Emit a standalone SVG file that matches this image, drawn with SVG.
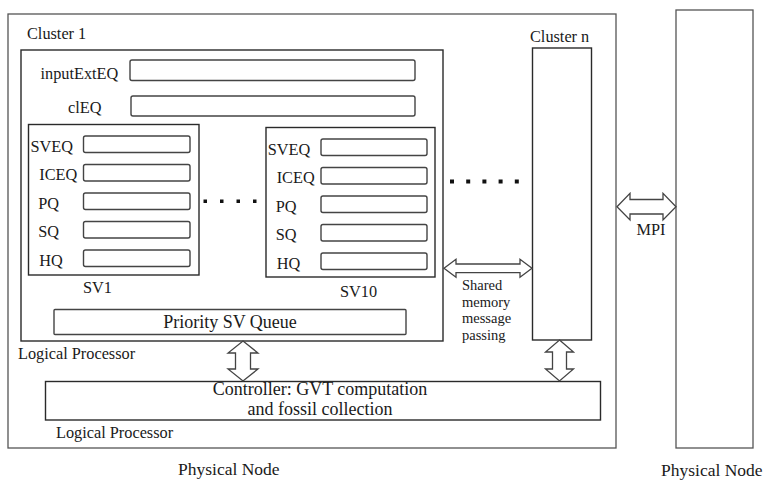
<svg xmlns="http://www.w3.org/2000/svg" width="767" height="481" viewBox="0 0 767 481">
  <style>
    text { font-family: "Liberation Serif", "Times New Roman", "DejaVu Serif", serif; fill: #1a1a1a; }
    .lbl { font-size: 16.3px; }
    .big { font-size: 18px; }
    .pn { font-size: 17.5px; }
    .small { font-size: 14.5px; }
    .frame { fill: #fff; stroke: #555; stroke-width: 1.3; }
    .box { fill: #fff; stroke: #2a2a2a; stroke-width: 1.4; }
    .bar { fill: #fff; stroke: #444; stroke-width: 1.4; }
    .arrow { fill: #fff; stroke: #444; stroke-width: 1.3; stroke-linejoin: miter; }
    .dot { fill: #111; }
  </style>

  <!-- Physical node (left) -->
  <g id="physical-node-1">
    <rect class="frame" x="8" y="14" width="608" height="434"/>
    <text class="pn" x="178" y="475">Physical Node</text>
  </g>

  <!-- Physical node (right) -->
  <g id="physical-node-2">
    <rect class="frame" x="676" y="10" width="77" height="438"/>
    <text class="pn" x="661" y="476">Physical Node</text>
  </g>

  <!-- Cluster 1 logical processor -->
  <g id="cluster-1">
    <text class="lbl" x="27" y="39">Cluster 1</text>
    <rect class="box" x="21" y="50" width="422" height="291"/>
    <text class="lbl" x="18" y="359">Logical Processor</text>
  </g>

  <g id="input-ext-eq">
    <text class="lbl" x="40.5" y="78.5">inputExtEQ</text>
    <rect class="bar" x="130" y="60" width="285" height="20.5" rx="2"/>
  </g>

  <g id="cl-eq">
    <text class="lbl" x="68" y="113">clEQ</text>
    <rect class="bar" x="131" y="96" width="284" height="20" rx="2"/>
  </g>

  <!-- State variable SV1 -->
  <g id="sv1">
    <rect class="box" x="28.5" y="124.5" width="170.5" height="150.5"/>
    <text class="lbl" x="30.5" y="151.5">SVEQ</text>
    <rect class="bar" x="83.5" y="136" width="106.5" height="16.5" rx="2"/>
    <text class="lbl" x="39.3" y="180">ICEQ</text>
    <rect class="bar" x="83.5" y="164.5" width="106.5" height="16.5" rx="2"/>
    <text class="lbl" x="38.3" y="208.5">PQ</text>
    <rect class="bar" x="83.5" y="193" width="106.5" height="16.5" rx="2"/>
    <text class="lbl" x="38.3" y="237">SQ</text>
    <rect class="bar" x="83.5" y="221.5" width="106.5" height="16.5" rx="2"/>
    <text class="lbl" x="39.3" y="265.5">HQ</text>
    <rect class="bar" x="83.5" y="250" width="106.5" height="16.5" rx="2"/>
    <text class="lbl" x="83" y="293">SV1</text>
  </g>

  <!-- State variable SV10 -->
  <g id="sv10">
    <rect class="box" x="266" y="127.5" width="169" height="149.5"/>
    <text class="lbl" x="267.7" y="155">SVEQ</text>
    <rect class="bar" x="321" y="139" width="106" height="16.5" rx="2"/>
    <text class="lbl" x="276.7" y="183.3">ICEQ</text>
    <rect class="bar" x="321" y="167.5" width="106" height="16.5" rx="2"/>
    <text class="lbl" x="275.7" y="212">PQ</text>
    <rect class="bar" x="321" y="196" width="106" height="16.5" rx="2"/>
    <text class="lbl" x="275.7" y="240">SQ</text>
    <rect class="bar" x="321" y="224.5" width="106" height="16.5" rx="2"/>
    <text class="lbl" x="276.7" y="268.5">HQ</text>
    <rect class="bar" x="321" y="253" width="106" height="16.5" rx="2"/>
    <text class="lbl" x="340" y="296.5">SV10</text>
  </g>

  <g id="sv-ellipsis">
    <rect class="dot" x="203.5" y="199.5" width="3.5" height="3.5"/>
    <rect class="dot" x="220" y="199.5" width="3.5" height="3.5"/>
    <rect class="dot" x="236.5" y="199.5" width="3.5" height="3.5"/>
    <rect class="dot" x="253" y="199.5" width="3.5" height="3.5"/>
  </g>

  <g id="priority-sv-queue">
    <rect class="bar" x="54" y="309.5" width="352" height="25" rx="1"/>
    <text class="big" x="230" y="327.5" text-anchor="middle">Priority SV Queue</text>
  </g>

  <!-- Cluster n -->
  <g id="cluster-n">
    <text class="lbl" x="530" y="42">Cluster n</text>
    <rect class="box" x="532.5" y="48" width="59" height="292"/>
  </g>

  <g id="cluster-ellipsis">
    <rect class="dot" x="450" y="179.5" width="4" height="4"/>
    <rect class="dot" x="466.2" y="179.5" width="4" height="4"/>
    <rect class="dot" x="482.4" y="179.5" width="4" height="4"/>
    <rect class="dot" x="498.6" y="179.5" width="4" height="4"/>
    <rect class="dot" x="514.8" y="179.5" width="4" height="4"/>
  </g>

  <!-- Controller -->
  <g id="controller">
    <rect class="box" x="45.5" y="381.5" width="555" height="38.5"/>
    <text class="big" x="320" y="395" text-anchor="middle">Controller: GVT computation</text>
    <text class="big" x="320" y="415" text-anchor="middle">and fossil collection</text>
    <text class="lbl" x="56" y="438">Logical Processor</text>
  </g>

  <!-- Connectors: hollow double-headed block arrows -->
  <g id="connectors">
    <polygon class="arrow" points="444,268.3 456,259.3 456,264 520,264 520,259.3 532,268.3 520,277.3 520,272.6 456,272.6 456,277.3"/>
    <polygon class="arrow" points="617,206.7 630,193.3 630,199.5 663,199.5 663,193.3 676,206.7 663,220 663,214 630,214 630,220"/>
    <polygon class="arrow" points="243,341 258,353 250.5,353 250.5,369 258,369 243,381 228,369 235.5,369 235.5,353 228,353"/>
    <polygon class="arrow" points="559.5,340 573.5,352 566.5,352 566.5,369 573.5,369 559.5,381 545.5,369 552.5,369 552.5,352 545.5,352"/>
    <g id="connector-labels">
      <text class="small" x="462" y="290">Shared</text>
      <text class="small" x="462" y="306.5">memory</text>
      <text class="small" x="462" y="323">message</text>
      <text class="small" x="462" y="339.5">passing</text>
      <text class="lbl" x="636.5" y="235">MPI</text>
    </g>
  </g>
</svg>
